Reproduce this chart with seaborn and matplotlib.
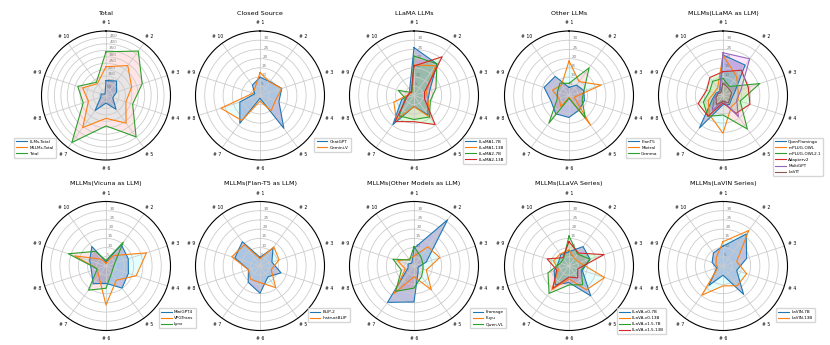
import numpy as np
import pandas as pd
import seaborn as sns
import matplotlib.pyplot as plt
from matplotlib.lines import Line2D

# spoke labels, clockwise from the top
spokes = ['# 1', '# 2', '# 3', '# 4', '# 5', '# 6', '# 7', '# 8', '# 9', '# 10']

# Total
total_names = ['LLMs-Total', 'MLLMs-Total', 'Total']
llms_total = [116, 139, 86, 55, 132, 59, 143, 43, 39, 13]
mllms_total = [223, 287, 209, 162, 265, 177, 308, 143, 191, 114]
all_total = [339, 426, 295, 217, 397, 236, 451, 186, 230, 127]

# Closed Source
closed_names = ['ChatGPT', 'Gemini-V']
chatgpt = [9.9, 9.3, 12.4, 10.8, 22.0, 1.5, 18.6, 11.5, 3.0, 7.0]
gemini_v = [12.4, 9.0, 12.4, 8.8, 10.3, 3.0, 16.8, 22.3, 4.0, 4.8]

# LLaMA LLMs
llama_names = ['LLaMA1-7B', 'LLaMA1-13B', 'LLaMA2-7B', 'LLaMA2-13B']
llama1_7b = [26.0, 21.2, 9.0, 8.0, 13.0, 6.0, 19.5, 7.0, 2.5, 4.0]
llama1_13b = [16.5, 20.0, 7.0, 8.0, 14.5, 6.0, 16.3, 11.5, 2.5, 2.0]
llama2_7b = [21.4, 21.2, 12.5, 9.3, 14.4, 13.0, 13.7, 5.0, 9.0, 2.0]
llama2_13b = [16.0, 26.0, 6.0, 6.0, 19.5, 14.2, 17.5, 4.3, 3.0, 2.5]

# Other LLMs
other_llm_names = ['FlanT5', 'Mixtral', 'Gemma']
flant5 = [4.4, 7.0, 8.5, 8.8, 9.6, 11.9, 12.3, 10.2, 14.2, 12.8]
mixtral = [18.7, 9.3, 18.4, 3.0, 19.9, 1.0, 7.5, 5.6, 9.4, 7.0]
gemma = [6.6, 18.6, 8.5, 7.5, 15.0, 1.5, 18.6, 6.8, 6.6, 8.3]

# MLLMs (LLaMA as LLM)
mllm_llama_names = ['OpenFlamingo', 'mPLUG-OWL', 'mPLUG-OWL2.1', 'Adapterv2', 'MultiGPT', 'LaVIT']
openflamingo = [22.0, 20.4, 6.8, 5.0, 6.0, 5.0, 21.8, 6.0, 4.0, 3.0]
mplug_owl = [21.9, 12.6, 8.6, 8.6, 7.6, 20.5, 12.7, 8.4, 5.0, 5.0]
mplug_owl21 = [9.3, 6.0, 21.0, 9.8, 22.5, 10.6, 14.0, 11.2, 7.6, 9.5]
adapterv2 = [12.9, 17.0, 14.4, 15.4, 12.0, 4.0, 13.8, 14.2, 9.3, 12.1]
multigpt = [23.2, 24.6, 10.3, 7.8, 14.2, 3.0, 10.0, 5.0, 3.0, 3.0]
lavit = [6.6, 5.0, 5.0, 4.0, 5.0, 3.0, 6.0, 4.0, 3.0, 2.0]

# MLLMs (Vicuna as LLM)
vicuna_names = ['MiniGPT4', 'VPGTrans', 'Lynx']
minigpt4 = [2.4, 14.2, 12.7, 12.8, 14.8, 9.4, 11.9, 8.3, 9.3, 13.1]
vpgtrans = [1.5, 7.0, 23.1, 17.2, 9.5, 21.2, 6.7, 5.0, 17.7, 4.6]
lynx = [3.0, 16.0, 5.0, 4.0, 5.0, 12.1, 16.2, 5.0, 21.5, 9.8]

# MLLMs (Flan-T5 as LLM)
flan_names = ['BLIP-2', 'InstructBLIP']
blip2 = [4.7, 12.0, 6.8, 12.0, 7.3, 14.8, 10.9, 6.6, 14.3, 16.3]
instructblip = [4.0, 12.8, 10.9, 6.4, 14.5, 9.0, 8.8, 6.6, 16.1, 14.3]

# MLLMs (Other Models as LLM)
other_mllm_names = ['Fromage', 'Fuyu', 'Qwen-VL']
fromage = [9.6, 31.0, 7.0, 2.3, 3.8, 19.5, 24.4, 3.4, 3.4, 2.0]
fuyu = [5.4, 12.9, 14.7, 7.0, 16.0, 5.8, 18.6, 5.0, 9.4, 4.5]
qwen_vl = [10.5, 6.3, 5.0, 5.2, 7.0, 12.0, 17.0, 7.2, 12.0, 4.0]

# MLLMs (LLaVA Series)
llava_names = ['LLaVA-v0-7B', 'LLaVA-v0-13B', 'LLaVA-v1.5-7B', 'LLaVA-v1.5-13B']
llava_v0_7b = [7.8, 13.0, 12.0, 7.6, 20.0, 9.0, 12.6, 8.5, 6.0, 7.6]
llava_v0_13b = [8.7, 5.0, 6.0, 20.3, 16.0, 7.0, 15.9, 6.0, 8.8, 8.1]
llava_v15_7b = [16.3, 8.0, 12.0, 7.0, 12.6, 10.3, 18.4, 12.0, 5.0, 5.0]
llava_v15_13b = [13.2, 8.7, 20.0, 5.0, 8.0, 6.0, 15.0, 7.0, 12.5, 5.6]

# MLLMs (LaVIN Series)
lavin_names = ['LaVIN-7B', 'LaVIN-13B']
lavin_7b = [10.8, 21.4, 13.5, 7.8, 19.0, 5.0, 13.0, 3.6, 6.2, 8.8]
lavin_13b = [13.2, 23.8, 7.8, 13.5, 13.2, 10.8, 19.6, 3.0, 4.0, 6.0]

# title, names, series, radial max, legend anchor (loc, x)
panels = [
    ('Total', total_names, [llms_total, mllms_total, all_total], 500, ('upper left', -0.23)),
    ('Closed Source', closed_names, [chatgpt, gemini_v], 35, ('upper right', 1.22)),
    ('LLaMA LLMs', llama_names, [llama1_7b, llama1_13b, llama2_7b, llama2_13b], 35, ('upper right', 1.23)),
    ('Other LLMs', other_llm_names, [flant5, mixtral, gemma], 35, ('upper right', 1.22)),
    ('MLLMs(LLaMA as LLM)', mllm_llama_names,
     [openflamingo, mplug_owl, mplug_owl21, adapterv2, multigpt, lavit], 35, ('upper right', 1.29)),
    ('MLLMs(Vicuna as LLM)', vicuna_names, [minigpt4, vpgtrans, lynx], 35, ('upper right', 1.21)),
    ('MLLMs(Flan-T5 as LLM)', flan_names, [blip2, instructblip], 35, ('upper right', 1.21)),
    ('MLLMs(Other Models as LLM)', other_mllm_names, [fromage, fuyu, qwen_vl], 35, ('upper right', 1.23)),
    ('MLLMs(LLaVA Series)', llava_names, [llava_v0_7b, llava_v0_13b, llava_v15_7b, llava_v15_13b], 35,
     ('upper right', 1.27)),
    ('MLLMs(LaVIN Series)', lavin_names, [lavin_7b, lavin_13b], 35, ('upper right', 1.23)),
]

line_colors = sns.color_palette('tab10')
fill_colors = [('navy', 0.25), ('cyan', 0.1), ('red', 0.1), ('lime', 0.15), ('magenta', 0.1), ('yellow', 0.1)]

angles = np.linspace(0, 2 * np.pi, len(spokes), endpoint=False)

fig = plt.figure(figsize=(8.3, 3.45), dpi=100)

W, H = 830, 345
R = 64.5
centers_x = [106, 260, 414, 569, 723]
centers_y = [95.5, 266]

for i, (title, names, series, rmax, (leg_loc, leg_x)) in enumerate(panels):
    cx = centers_x[i % 5]
    cy = centers_y[i // 5]
    ax = fig.add_axes([(cx - R) / W, (H - cy - R) / H, 2 * R / W, 2 * R / H], projection='polar')

    rows = []
    for name, vals in zip(names, series):
        closed = list(vals) + [vals[0]]
        ang = list(angles) + [angles[0]]
        for a, v in zip(ang, closed):
            rows.append((name, a, v))
    df = pd.DataFrame(rows, columns=['model', 'angle', 'value'])

    sns.lineplot(data=df, x='angle', y='value', hue='model', sort=False, estimator=None,
                 palette=line_colors[:len(names)], linewidth=0.8, legend=False, ax=ax)
    for k, vals in enumerate(series):
        fc, fa = fill_colors[k]
        ax.fill(np.append(angles, angles[0]), list(vals) + [vals[0]], color=fc, alpha=fa, linewidth=0)

    ax.set_theta_offset(np.pi / 2)
    ax.set_theta_direction(-1)
    ax.set_xticks(angles)
    ax.set_xticklabels(spokes, fontsize=3.3)
    ax.tick_params(axis='x', pad=-4.5)
    ax.set_ylim(0, rmax)
    step = rmax / 10 if rmax == 500 else 5
    ticks = np.arange(step, rmax, step)
    ax.set_yticks(ticks)
    ax.set_yticklabels([f'{t:g}' for t in ticks], fontsize=3, color='gray')
    ax.set_rlabel_position(4)
    ax.set_xlabel('')
    ax.set_ylabel('')
    ax.grid(color='#cccccc', linewidth=0.6)
    ax.spines['polar'].set_linewidth(0.8)
    ax.set_title(title, fontsize=4.6, pad=4)

    handles = [Line2D([], [], color=line_colors[k], linewidth=0.8) for k in range(len(names))]
    ax.legend(handles, names, loc=leg_loc, bbox_to_anchor=(leg_x, 0.19),
              fontsize=3, handlelength=2.6, handletextpad=0.6, borderpad=0.5, labelspacing=0.5)

fig.savefig('out.png', dpi=100)
